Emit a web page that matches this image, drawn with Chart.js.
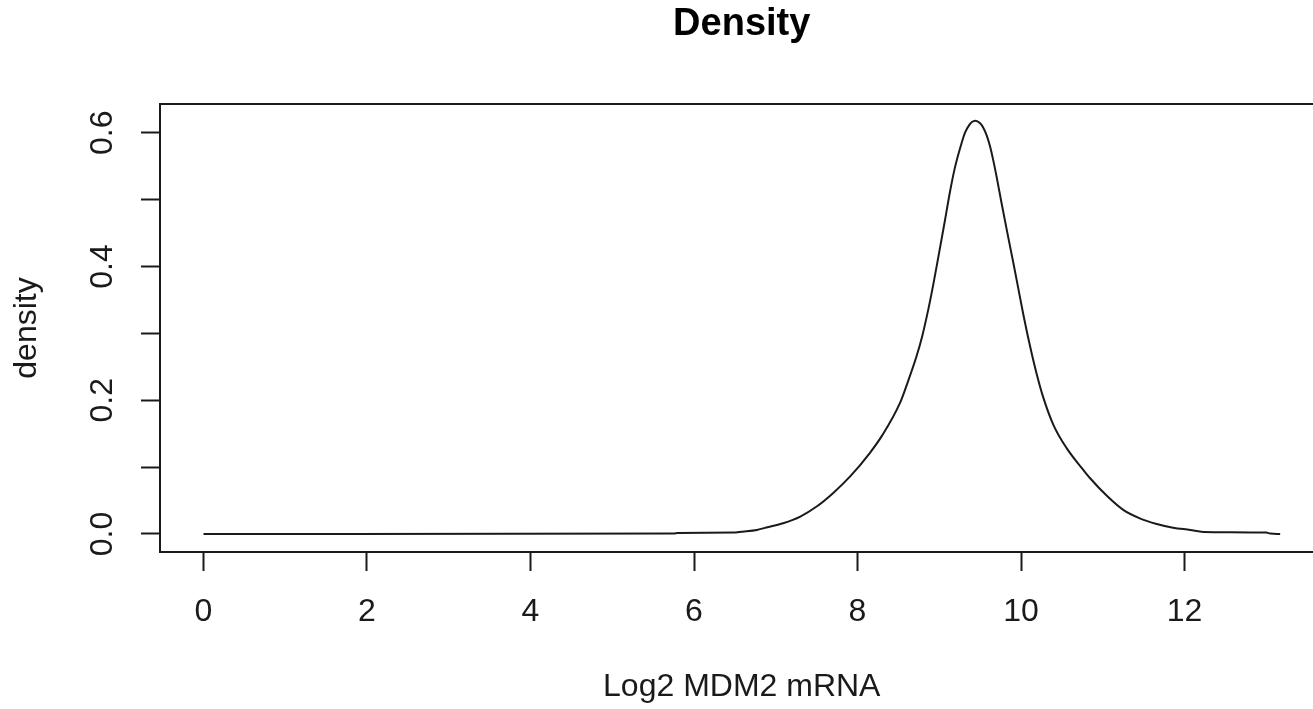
<!DOCTYPE html>
<html>
<head>
<meta charset="utf-8">
<title>Density</title>
<script src="https://cdn.jsdelivr.net/npm/chart.js@4.4.1/dist/chart.umd.min.js"></script>
<style>
    html, body { margin: 0; padding: 0; background: #fff; overflow: hidden; }
    #wrap { position: relative; width: 1480px; height: 709px; }
</style>
</head>
<body>
<div id="wrap"><canvas id="densityChart"></canvas></div>
<script>
// kernel density of log2 MDM2 mRNA
const xValues = [
    0, 5.75, 5.8, 6.5, 6.55, 6.77, 6.9, 7.09, 7.3, 7.5,
    7.7, 7.91, 8.15, 8.3, 8.52, 8.62, 8.72, 8.79, 8.87,
    8.93, 8.99, 9.07, 9.13, 9.19, 9.27, 9.315, 9.37, 9.4, 9.44,
    9.5, 9.54, 9.58, 9.62, 9.66, 9.7, 9.76, 9.83, 9.91, 9.97,
    10.03, 10.11, 10.19, 10.27, 10.4, 10.56, 10.76, 10.84, 11.05, 11.25,
    11.46, 11.66, 11.86, 12.07, 12.23, 13.0, 13.05, 13.17
];
const densityValues = [
    0, 0.0005, 0.0015, 0.002, 0.003, 0.006, 0.01, 0.016, 0.026, 0.041,
    0.061, 0.086, 0.121, 0.147, 0.196, 0.229, 0.265, 0.295, 0.338,
    0.375, 0.415, 0.469, 0.511, 0.547, 0.583, 0.6, 0.612, 0.616, 0.618,
    0.614, 0.607, 0.596, 0.58, 0.559, 0.535, 0.496, 0.452, 0.403, 0.365,
    0.327, 0.281, 0.24, 0.205, 0.162, 0.128, 0.096, 0.084, 0.057, 0.036,
    0.023, 0.015, 0.0094, 0.006, 0.003, 0.002, 0.0005, 0
];

const xTicks = [0, 2, 4, 6, 8, 10, 12];
const yTicks = [0, 0.1, 0.2, 0.3, 0.4, 0.5, 0.6];
const yTickLabels = [
    { value: 0, text: '0.0' },
    { value: 0.2, text: '0.2' },
    { value: 0.4, text: '0.4' },
    { value: 0.6, text: '0.6' }
];
const mainTitle = 'Density';

const ink = '#1a1a1a';
const family = 'Liberation Sans, Arial, sans-serif';
const axisFont = { family: family, size: 32 };

// box around the plot region, title over its centre, y labels along the axis
const framePlugin = {
    id: 'frame',
    afterDraw(chart) {
        const { ctx, chartArea: a, scales } = chart;
        ctx.save();
        ctx.strokeStyle = ink;
        ctx.lineWidth = 2;
        ctx.strokeRect(a.left, a.top, a.right - a.left, a.bottom - a.top);

        ctx.textAlign = 'center';
        ctx.textBaseline = 'middle';
        ctx.fillStyle = '#000';
        ctx.font = 'bold 38px ' + family;
        ctx.fillText(mainTitle, (a.left + a.right) / 2, 24.8);

        ctx.fillStyle = ink;
        ctx.font = axisFont.size + 'px ' + family;
        yTickLabels.forEach(t => {
            const py = scales.y.getPixelForValue(t.value);
            ctx.save();
            ctx.translate(103.3, py);
            ctx.rotate(-Math.PI / 2);
            ctx.fillText(t.text, 0, 0);
            ctx.restore();
        });
        ctx.restore();
    }
};

new Chart(document.getElementById('densityChart'), {
    type: 'scatter',
    data: {
        datasets: [{
            data: xValues.map((x, i) => ({ x: x, y: densityValues[i] })),
            showLine: true,
            borderColor: ink,
            borderWidth: 2,
            pointRadius: 0,
            cubicInterpolationMode: 'monotone',
            fill: false
        }]
    },
    options: {
        responsive: true,
        maintainAspectRatio: false,
        animation: false,
        layout: { padding: { left: 0, right: 156.5, top: 104, bottom: 0 } },
        plugins: {
            legend: { display: false },
            tooltip: { enabled: false },
            title: { display: false }
        },
        scales: {
            x: {
                type: 'linear',
                min: -0.532,
                max: 13.70,
                afterBuildTicks: axis => { axis.ticks = xTicks.map(v => ({ value: v })); },
                afterFit: axis => { axis.height = 157; },
                border: { display: false },
                grid: {
                    drawOnChartArea: false,
                    drawTicks: true,
                    tickLength: 19,
                    tickColor: ink,
                    tickWidth: 2
                },
                ticks: {
                    color: ink,
                    font: axisFont,
                    padding: 21.5,
                    autoSkip: false,
                    maxRotation: 0
                },
                title: {
                    display: true,
                    text: 'Log2 MDM2 mRNA',
                    color: ink,
                    font: axisFont,
                    padding: { top: 0, bottom: 2.5 }
                }
            },
            y: {
                type: 'linear',
                min: -0.027,
                max: 0.6429,
                afterBuildTicks: axis => { axis.ticks = yTicks.map(v => ({ value: v })); },
                afterFit: axis => { axis.width = 160; },
                border: { display: false },
                grid: {
                    drawOnChartArea: false,
                    drawTicks: true,
                    tickLength: 19,
                    tickColor: ink,
                    tickWidth: 2
                },
                ticks: {
                    font: axisFont,
                    autoSkip: false,
                    callback: () => ''
                },
                title: {
                    display: true,
                    text: 'density',
                    color: ink,
                    font: axisFont,
                    padding: { top: 8.1, bottom: 0 }
                }
            }
        }
    },
    plugins: [framePlugin]
});
</script>
</body>
</html>
